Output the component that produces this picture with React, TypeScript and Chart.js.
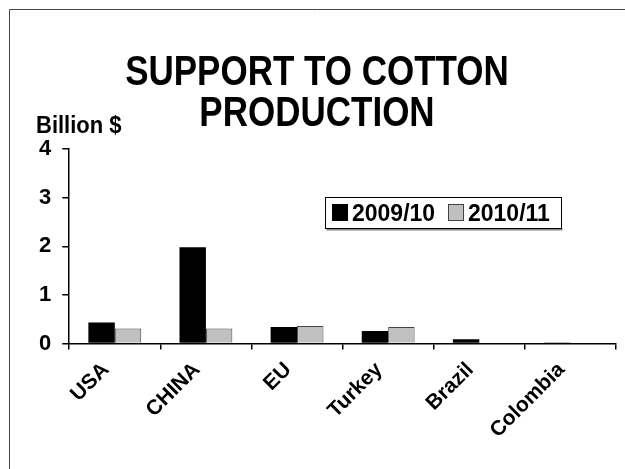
import React, { useEffect, useRef } from "react";
import { Chart, registerables } from "chart.js";

Chart.register(...registerables);

const categories = ["USA", "CHINA", "EU", "Turkey", "Brazil", "Colombia"];
const series2009 = [0.43, 1.98, 0.34, 0.26, 0.09, 0.02];
const series2010: (number | null)[] = [0.31, 0.31, 0.36, 0.34, null, null];
const seriesLabels = ["2009/10", "2010/11"];
const titleLines = ["SUPPORT TO COTTON", "PRODUCTION"];
const yUnitLabel = "Billion $";

const FONT = "'Liberation Sans', Arial, sans-serif";

function stretchedText(ctx: any, text: string, x: number, baseline: number, sy: number) {
  ctx.save();
  ctx.translate(x, baseline);
  ctx.scale(1, sy);
  ctx.fillText(text, 0, 0);
  ctx.restore();
}

const decorPlugin = {
  id: "decor",
  beforeDraw(chart: any) {
    const ctx = chart.ctx;
    ctx.save();
    ctx.fillStyle = "#fff";
    ctx.fillRect(0, 0, chart.width, chart.height);
    ctx.strokeStyle = "#444";
    ctx.lineWidth = 1;
    ctx.beginPath();
    ctx.moveTo(9.5, chart.height);
    ctx.lineTo(9.5, 9.5);
    ctx.lineTo(chart.width, 9.5);
    ctx.stroke();
    ctx.restore();
  },
  afterDraw(chart: any) {
    const ctx = chart.ctx;
    ctx.save();
    // title
    ctx.fillStyle = "#000";
    ctx.textAlign = "center";
    ctx.textBaseline = "alphabetic";
    ctx.font = `bold 35px ${FONT}`;
    stretchedText(ctx, titleLines[0], 317, 85, 1.22);
    stretchedText(ctx, titleLines[1], 317, 126, 1.22);
    // unit label
    ctx.textAlign = "left";
    ctx.font = `bold 22px ${FONT}`;
    stretchedText(ctx, yUnitLabel, 36, 133, 1.12);
    // legend
    const bx = 325.5, by = 197.5, bw = 236, bh = 31;
    ctx.fillStyle = "#888";
    ctx.fillRect(bx + 1, by + bh, bw, 2);
    ctx.fillStyle = "#fff";
    ctx.fillRect(bx, by, bw, bh);
    ctx.strokeStyle = "#000";
    ctx.lineWidth = 1;
    ctx.strokeRect(bx, by, bw, bh);
    const ds = chart.data.datasets;
    const items = [
      { sx: 332, tx: 352 },
      { sx: 448, tx: 468 },
    ];
    ctx.font = `bold 23px ${FONT}`;
    items.forEach((it, i) => {
      const d = ds[i];
      ctx.fillStyle = d.backgroundColor;
      ctx.fillRect(it.sx, 204, 16, 17);
      if (d.borderWidth) {
        ctx.strokeStyle = d.borderColor;
        ctx.lineWidth = 1;
        ctx.strokeRect(it.sx + 0.5, 204.5, 15, 16);
      }
      ctx.fillStyle = "#000";
      stretchedText(ctx, d.label, it.tx, 221, 1.08);
    });
    ctx.restore();
  },
};

export default function App() {
  const ref = useRef<HTMLCanvasElement>(null);
  useEffect(() => {
    if (!ref.current) return;
    const chart = new Chart(ref.current, {
      type: "bar",
      data: {
        labels: categories,
        datasets: [
          {
            label: seriesLabels[0],
            data: series2009,
            backgroundColor: "#000000",
            borderWidth: 0,
            barPercentage: 1,
            categoryPercentage: 0.58,
          },
          {
            label: seriesLabels[1],
            data: series2010,
            backgroundColor: "#C0C0C0",
            borderColor: "#444444",
            borderWidth: 1,
            barPercentage: 1,
            categoryPercentage: 0.58,
          },
        ],
      },
      plugins: [decorPlugin],
      options: {
        animation: false,
        responsive: false,
        maintainAspectRatio: false,
        layout: { padding: { top: 149, left: 28, right: 9, bottom: 18 } },
        plugins: {
          legend: { display: false },
          title: { display: false },
          tooltip: { enabled: false },
        },
        scales: {
          x: {
            grid: {
              drawOnChartArea: false,
              drawTicks: true,
              tickLength: 6,
              color: "#000",
              lineWidth: 1.5,
              offset: true,
            },
            border: { color: "#000", width: 1.5 },
            ticks: {
              autoSkip: false,
              minRotation: 45,
              maxRotation: 45,
              padding: 8,
              labelOffset: -9,
              color: "#000",
              font: { family: FONT, size: 21, weight: "bold" },
            },
          },
          y: {
            min: 0,
            max: 4,
            grid: {
              drawOnChartArea: false,
              drawTicks: true,
              tickLength: 7,
              color: "#000",
              lineWidth: 1.5,
            },
            border: { color: "#000", width: 1.5 },
            ticks: {
              stepSize: 1,
              padding: 11,
              color: "#000",
              font: { family: FONT, size: 22, weight: "bold" },
            },
          },
        },
      },
    });
    return () => chart.destroy();
  }, []);
  return (
    <div style={{ position: "absolute", left: 0, top: 0, width: 625, height: 469 }}>
      <canvas ref={ref} width={625} height={469} style={{ width: 625, height: 469 }} />
    </div>
  );
}
